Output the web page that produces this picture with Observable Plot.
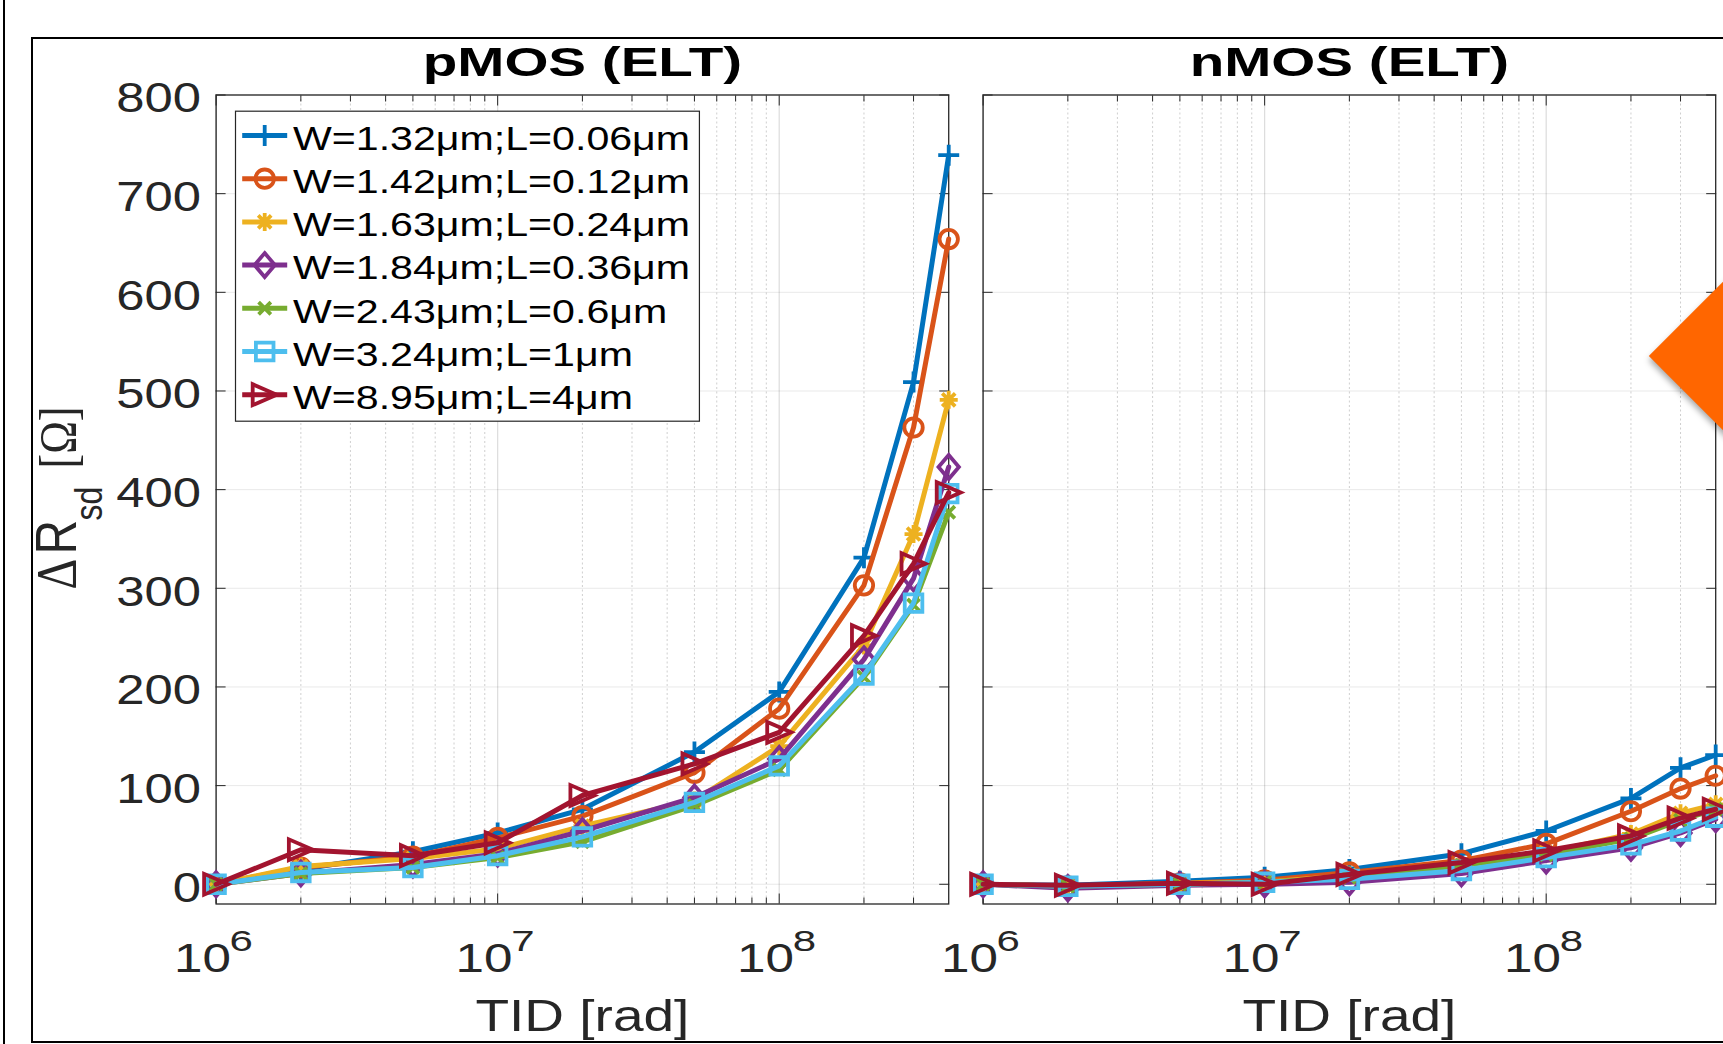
<!DOCTYPE html>
<html>
<head>
<meta charset="utf-8">
<script src="https://cdn.jsdelivr.net/npm/d3@7"></script>
<script src="https://cdn.jsdelivr.net/npm/@observablehq/plot@0.6"></script>
<style>
  html, body { margin: 0; padding: 0; background: #fff; overflow: hidden; }
  #wrap { position: relative; width: 1723px; height: 1044px; overflow: hidden; background: #fff; }
  #edge { position: absolute; left: 3px; top: 0; width: 2px; height: 1044px; background: #000; }
  #box { position: absolute; left: 31px; top: 37px; width: 1800px; height: 1006px; border: 2px solid #000; box-sizing: border-box; }
  #chart { position: absolute; left: 0; top: 0; }
  #arrow { position: absolute; left: 1684px; top: 271px; width: 170px; height: 170px; background: #FF6600;
           transform: rotate(45deg); box-shadow: 3px 3px 6px rgba(0,0,0,0.35); }
</style>
</head>
<body>
<div id="wrap">
  <div id="edge"></div>
  <div id="box"></div>
  <div id="chart"></div>
  <div id="arrow"></div>
</div>
<script>
// ---------------- data ----------------
const panels = ["pMOS (ELT)", "nMOS (ELT)"];
const seriesLabels = [
  "W=1.32μm;L=0.06μm",
  "W=1.42μm;L=0.12μm",
  "W=1.63μm;L=0.24μm",
  "W=1.84μm;L=0.36μm",
  "W=2.43μm;L=0.6μm",
  "W=3.24μm;L=1μm",
  "W=8.95μm;L=4μm"
];
const seriesColors = ["#0072BD", "#D95319", "#EDB120", "#7E2F8E", "#77AC30", "#4DBEEE", "#A2142F"];
const tid = [1e6, 2e6, 5e6, 1e7, 2e7, 5e7, 1e8, 2e8, 3e8, 4e8];

const pmos_W132 = [0, 15, 33, 52, 76, 134, 195, 331, 509, 739];
const pmos_W142 = [0, 17, 28, 47, 69, 113, 178, 303, 463, 654];
const pmos_W163 = [0, 18, 26, 36, 59, 85, 140, 242, 355, 491];
const pmos_W184 = [0, 11, 20, 31, 54, 88, 127, 228, 310, 423];
const pmos_W243 = [0, 11, 17, 27, 43, 80, 116, 210, 283, 377];
const pmos_W324 = [0, 12, 17, 29, 48, 83, 120, 212, 285, 396];
const pmos_W895 = [0, 35, 29, 42, 90, 122, 154, 252, 325, 397];

const nmos_W132 = [0, -1, 3, 7, 15, 31, 54, 87, 118, 131];
const nmos_W142 = [0, -2, 1, 4, 12, 24, 41, 74, 97, 110];
const nmos_W163 = [0, -2, 1, 2, 9, 19, 32, 51, 72, 81];
const nmos_W184 = [0, -4, -1, 0, 2, 11, 24, 37, 52, 66];
const nmos_W243 = [0, -2, 0, 2, 7, 19, 30, 46, 65, 76];
const nmos_W324 = [0, -2, 0, 2, 5, 14, 27, 40, 54, 68];
const nmos_W895 = [0, -1, 1, 0, 10, 22, 34, 49, 67, 76];

const yTicks = [0, 100, 200, 300, 400, 500, 600, 700, 800];
const xMajorTicks = [1e6, 1e7, 1e8];
const xMajorExponents = ["6", "7", "8"];
const xMinorTicks = [2e6, 3e6, 4e6, 5e6, 6e6, 7e6, 8e6, 9e6,
                     2e7, 3e7, 4e7, 5e7, 6e7, 7e7, 8e7, 9e7,
                     2e8, 3e8];

// ---------------- build table ----------------
const pmosSeries = [pmos_W132, pmos_W142, pmos_W163, pmos_W184, pmos_W243, pmos_W324, pmos_W895];
const nmosSeries = [nmos_W132, nmos_W142, nmos_W163, nmos_W184, nmos_W243, nmos_W324, nmos_W895];
const rows = [];
[pmosSeries, nmosSeries].forEach((ser, p) =>
  ser.forEach((vals, i) =>
    vals.forEach((v, j) => rows.push({panel: panels[p], series: i, tid: tid[j], val: v}))));

// ---------------- marker shapes (MATLAB-like) ----------------
const rad = s => Math.sqrt(s / Math.PI);
const symPlus = {draw(c, s) { const r = rad(s); c.moveTo(-r, 0); c.lineTo(r, 0); c.moveTo(0, -r); c.lineTo(0, r); }};
const symCircle = {draw(c, s) { const r = rad(s); c.moveTo(r, 0); c.arc(0, 0, r, 0, 2 * Math.PI); c.closePath(); }};
const symStar = {draw(c, s) { const r = rad(s), q = r * 0.72;
  c.moveTo(-r, 0); c.lineTo(r, 0); c.moveTo(0, -r); c.lineTo(0, r);
  c.moveTo(-q, -q); c.lineTo(q, q); c.moveTo(-q, q); c.lineTo(q, -q); }};
const symDiamond = {draw(c, s) { const r = rad(s); c.moveTo(0, -r); c.lineTo(r * 0.85, 0); c.lineTo(0, r); c.lineTo(-r * 0.85, 0); c.closePath(); }};
const symX = {draw(c, s) { const q = rad(s) * 0.72; c.moveTo(-q, -q); c.lineTo(q, q); c.moveTo(-q, q); c.lineTo(q, -q); }};
const symSquare = {draw(c, s) { const r = rad(s); c.moveTo(-r, -r); c.lineTo(r, -r); c.lineTo(r, r); c.lineTo(-r, r); c.closePath(); }};
const symRight = {draw(c, s) { const r = rad(s); c.moveTo(r, 0); c.lineTo(-r, -r * 0.87); c.lineTo(-r, r * 0.87); c.closePath(); }};
const symLine = {draw(c, s) { const r = rad(s); c.moveTo(-r, 0); c.lineTo(r, 0); }};

const markerSymbols = [symPlus, symCircle, symStar, symDiamond, symX, symSquare, symRight];
const markerRadii = [10.5, 9.2, 9, 12, 8.5, 8.8, 12];

// ---------------- marks ----------------
const axisColor = "#262626";
const lineWidth = 5;
const markerWidth = 3.8;
const marks = [
  Plot.gridY({ticks: yTicks, stroke: axisColor, strokeOpacity: 0.1, strokeWidth: 1}),
  Plot.gridX({ticks: xMinorTicks, stroke: axisColor, strokeOpacity: 0.22, strokeWidth: 1, strokeDasharray: "2,2.5"}),
  Plot.gridX({ticks: xMajorTicks, stroke: axisColor, strokeOpacity: 0.16, strokeWidth: 1.2}),
  Plot.frame({stroke: axisColor, strokeWidth: 1.3}),
  // inward ticks on all four sides of each panel
  Plot.axisY({anchor: "left", ticks: yTicks, tickSize: -10, fill: "none", stroke: axisColor, facetAnchor: null, label: null}),
  Plot.axisY({anchor: "right", ticks: yTicks, tickSize: -10, fill: "none", stroke: axisColor, facetAnchor: null, label: null}),
  Plot.axisX({anchor: "bottom", ticks: xMajorTicks, tickSize: -10, fill: "none", stroke: axisColor, facetAnchor: null, label: null}),
  Plot.axisX({anchor: "bottom", ticks: xMinorTicks, tickSize: -6, fill: "none", stroke: axisColor, facetAnchor: null, label: null}),
  Plot.axisX({anchor: "top", ticks: xMajorTicks, tickSize: -10, fill: "none", stroke: axisColor, facetAnchor: null, label: null}),
  Plot.axisX({anchor: "top", ticks: xMinorTicks, tickSize: -6, fill: "none", stroke: axisColor, facetAnchor: null, label: null}),
  // y tick labels (left panel only)
  Plot.axisY({anchor: "left", ticks: yTicks, tickSize: 0, tickPadding: 15, fontSize: 42, dy: 4, fill: axisColor, label: null}),
  // x tick labels 10^n
  Plot.text(xMajorTicks, {x: d => d, text: () => "10", frameAnchor: "bottom", lineAnchor: "bottom", textAnchor: "end",
    dx: 14.8, dy: 68.2, fontSize: 40, fill: axisColor, ariaDescription: "decade"}),
  Plot.text(xMajorTicks, {x: d => d, text: (d, i) => xMajorExponents[i], frameAnchor: "bottom", lineAnchor: "bottom", textAnchor: "start",
    dx: 13.5, dy: 46.5, fontSize: 30, fill: axisColor, ariaDescription: "exponent"}),
  // x axis labels
  Plot.text(panels, {fx: d => d, text: () => "TID [rad]", frameAnchor: "bottom", lineAnchor: "bottom",
    dy: 126.5, fontSize: 44, fill: axisColor, ariaDescription: "axislabel"}),
  // panel titles
  Plot.text(panels, {fx: d => d, text: d => d, frameAnchor: "top", lineAnchor: "bottom",
    dy: -19.5, fontSize: 41, fontWeight: "bold", fill: "#000", ariaDescription: "title"}),
  // y axis label ΔR_sd [Ω]
  Plot.text([panels[0]], {fx: d => d, text: () => "Δ", frameAnchor: "left", rotate: -90, textAnchor: "start", lineAnchor: "bottom",
    dx: -140.6, dy: 90, fontSize: 48, fontFamily: "'Liberation Serif', 'Times New Roman', serif", fill: axisColor, ariaDescription: "ylabel"}),
  Plot.text([panels[0]], {fx: d => d, text: () => "R", frameAnchor: "left", rotate: -90, textAnchor: "start", lineAnchor: "bottom",
    dx: -140.6, dy: 55, fontSize: 48, fill: axisColor, ariaDescription: "ylabel"}),
  Plot.text([panels[0]], {fx: d => d, text: () => "sd", frameAnchor: "left", rotate: -90, textAnchor: "start", lineAnchor: "bottom",
    dx: -113.9, dy: 21, fontSize: 32, fill: axisColor, ariaDescription: "ylabel"}),
  Plot.text([panels[0]], {fx: d => d, text: () => "[Ω]", frameAnchor: "left", rotate: -90, textAnchor: "start", lineAnchor: "bottom",
    dx: -140.6, dy: -31, fontSize: 44, fontFamily: "'Liberation Serif', 'Times New Roman', serif", fill: axisColor, ariaDescription: "ylabel"})
];

// data series: line then markers, in MATLAB plotting order
seriesLabels.forEach((lab, i) => {
  const d = rows.filter(r => r.series === i);
  marks.push(Plot.line(d, {x: "tid", y: "val", fx: "panel", stroke: seriesColors[i], strokeWidth: lineWidth, strokeLinejoin: "round"}));
  marks.push(Plot.dot(d, {x: "tid", y: "val", fx: "panel", symbol: markerSymbols[i], r: markerRadii[i],
    stroke: seriesColors[i], strokeWidth: markerWidth, fill: "none"}));
});

// legend (inside left panel)
marks.push(Plot.frame({facetAnchor: "left", insetLeft: 19.4, insetTop: 16.2, insetRight: 249.3, insetBottom: 482.8,
  fill: "white", stroke: axisColor, strokeWidth: 1.2}));
const legendRow = 43.2;
seriesLabels.forEach((lab, i) => {
  marks.push(Plot.dot([lab], {fx: () => panels[0], frameAnchor: "top-left", dx: 48.6, dy: 40.5 + i * legendRow,
    symbol: symLine, r: 22.5, stroke: seriesColors[i], strokeWidth: lineWidth, fill: "none"}));
  marks.push(Plot.dot([lab], {fx: () => panels[0], frameAnchor: "top-left", dx: 48.6, dy: 40.5 + i * legendRow,
    symbol: markerSymbols[i], r: markerRadii[i], stroke: seriesColors[i], strokeWidth: markerWidth, fill: "none"}));
  marks.push(Plot.text([lab], {fx: () => panels[0], frameAnchor: "top-left", text: d => d, textAnchor: "start", lineAnchor: "bottom",
    dx: 76.9, dy: 54.8 + i * legendRow, fontSize: 34, fill: "#000", ariaDescription: "legend"}));
});

const svg = Plot.plot({
  width: 1723,
  height: 1044,
  marginLeft: 215.6,
  marginRight: 7.8,
  marginTop: 94.5,
  marginBottom: 140.5,
  style: {fontFamily: "'Liberation Sans', Arial, Helvetica, sans-serif", background: "transparent", overflow: "visible"},
  fx: {domain: panels, paddingInner: 0.0448, paddingOuter: 0, round: false, axis: null, label: null},
  x: {type: "log", domain: [1e6, 4e8]},
  y: {domain: [-20, 800]},
  marks
});

// MATLAB text in the reference is rendered horizontally widened; reproduce that per text group
const stretch = {title: 1.38, exponent: 1.4, decade: 1.28, axislabel: 1.25, legend: 1.21, ylabel: 1.2};
svg.querySelectorAll("text").forEach(t => {
  const g = t.closest("[aria-description]");
  const key = g ? g.getAttribute("aria-description") : null;
  const s = stretch[key] || 1.21;
  const tr = t.getAttribute("transform") || "";
  t.setAttribute("transform", tr + (tr.includes("rotate") ? ` scale(1,${s})` : ` scale(${s},1)`));
});

document.getElementById("chart").appendChild(svg);
</script>
</body>
</html>
